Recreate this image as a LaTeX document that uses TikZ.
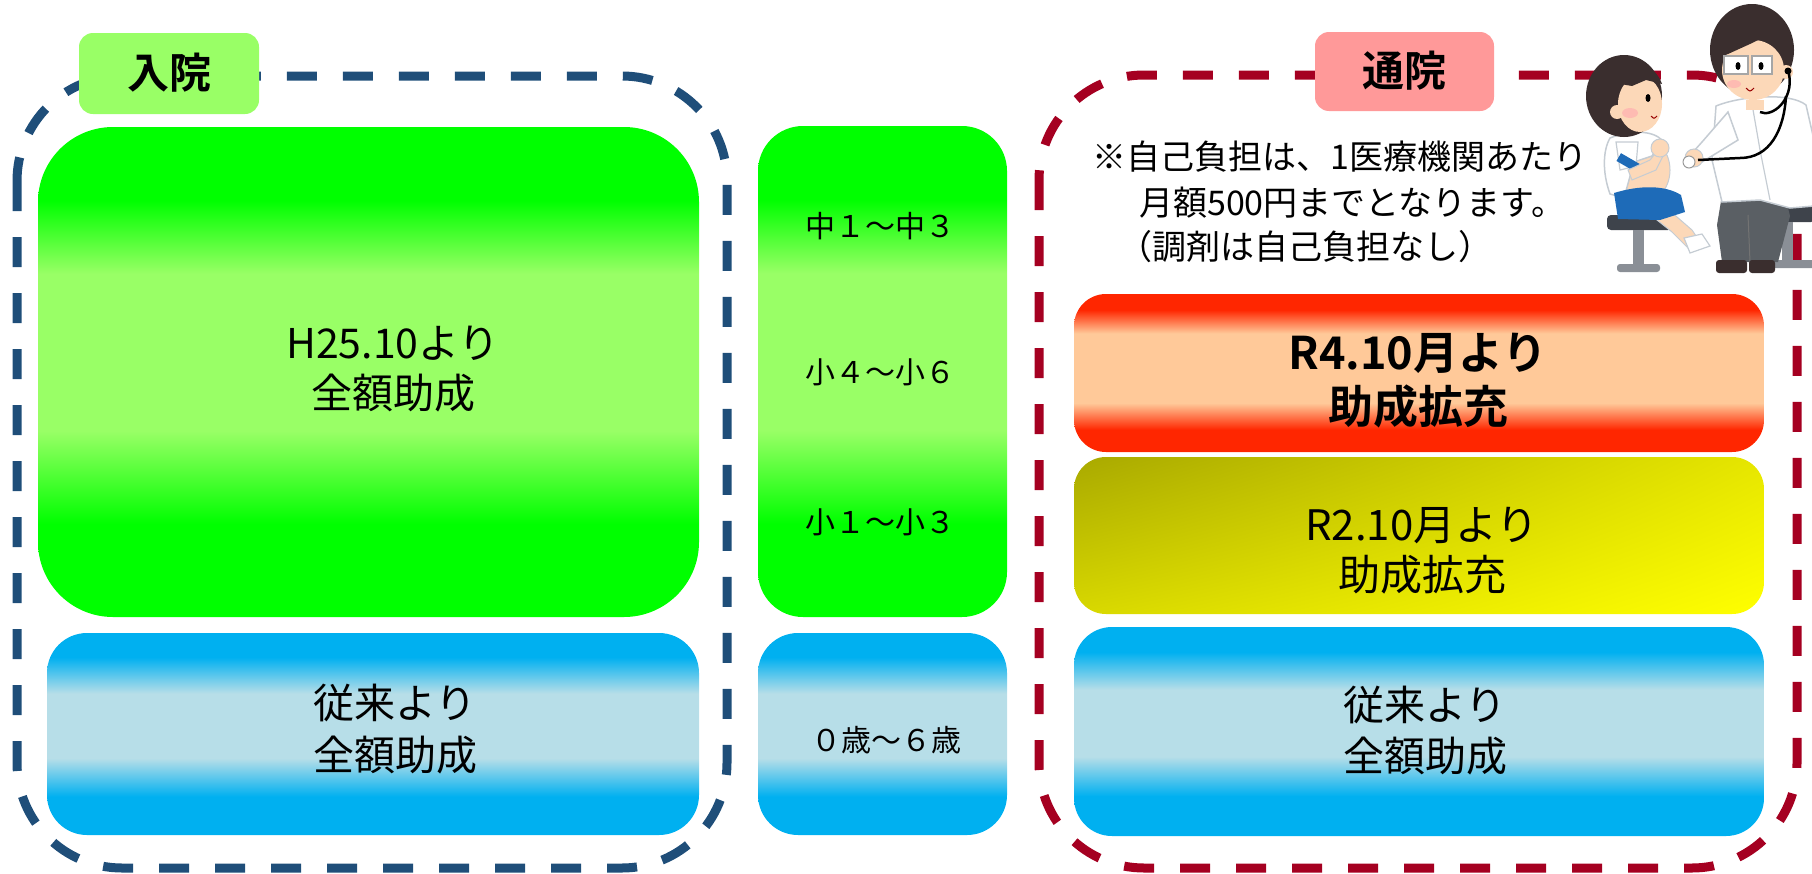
\documentclass[tikz,border=0pt]{standalone}
\usepackage{fontspec}
\setmainfont{Noto Sans CJK JP}[BoldFont={Noto Sans CJK JP Bold}]
\usetikzlibrary{calc,shadings}

\definecolor{frameblue}{HTML}{1F4E79}
\definecolor{framered}{HTML}{A50021}
\definecolor{grnA}{HTML}{00FF00}
\definecolor{grnB}{HTML}{99FF66}
\definecolor{bluA}{HTML}{00B0F0}
\definecolor{bluB}{HTML}{B7DEE8}
\definecolor{redA}{HTML}{FF2600}
\definecolor{redB}{HTML}{FFC999}
\definecolor{yelUL}{HTML}{A9A900}
\definecolor{yelUR}{HTML}{E6E600}
\definecolor{yelLL}{HTML}{D8D800}
\definecolor{yelLR}{HTML}{FFFF00}
\definecolor{tagGreen}{HTML}{99FF66}
\definecolor{tagPink}{HTML}{FF9999}
% illustration colours
\definecolor{skin}{HTML}{FCD8B8}
\definecolor{hair}{HTML}{3A2E2E}
\definecolor{coatline}{HTML}{C5CCD3}
\definecolor{shorts}{HTML}{1E6BB8}
\definecolor{pants}{HTML}{5A5F64}
\definecolor{seat}{HTML}{3E434B}
\definecolor{stoolleg}{HTML}{8A8F96}
\definecolor{blush}{HTML}{FFB0B0}

% banded vertical fills: the path spans 25bp (bottom) .. 75bp (top)
\pgfdeclareverticalshading{greenband}{100bp}{color(0bp)=(grnA); color(34.5bp)=(grnA); color(44bp)=(grnB); color(60bp)=(grnB); color(67.5bp)=(grnA); color(100bp)=(grnA)}
\pgfdeclareverticalshading{blueband}{100bp}{color(0bp)=(bluA); color(34.5bp)=(bluA); color(44bp)=(bluB); color(60bp)=(bluB); color(69bp)=(bluA); color(100bp)=(bluA)}
\pgfdeclareverticalshading{redband}{100bp}{color(0bp)=(redA); color(32bp)=(redA); color(40.5bp)=(redB); color(62.5bp)=(redB); color(70bp)=(redA); color(100bp)=(redA)}

\tikzset{
  panel/.style={rectangle, inner sep=0pt, draw=none},
  frame/.style={line width=9pt, dash pattern=on 30pt off 26pt, rounded corners=105pt},
  tag/.style={rectangle, inner sep=0pt, rounded corners=14pt, font=\fontsize{42pt}{50pt}\selectfont\bfseries},
  bigtext/.style={align=center, inner sep=0pt, font=\fontsize{41pt}{50pt}\selectfont},
  agetext/.style={inner sep=0pt, font=\fontsize{30pt}{36pt}\selectfont},
  notetext/.style={inner sep=0pt, anchor=base west, font=\fontsize{34pt}{46pt}\selectfont},
}

\begin{document}
\begin{tikzpicture}[x=1pt,y=-1pt]
\useasboundingbox (0,0) rectangle (1812,873);

% dashed frames
\draw[frame, frameblue] (17,76) rectangle (727,868);
\draw[frame, framered] (1039,75) rectangle (1797,868);

% inpatient column
\node[panel, shading=greenband, rounded corners=75pt, minimum width=661pt, minimum height=490pt] (inBig) at (368.5,372) {};
\node[bigtext] (inBigText) at (393,369) {H25.10より\\全額助成};
\node[panel, shading=blueband, rounded corners=40pt, minimum width=652pt, minimum height=202pt] (inBase) at (373,734) {};
\node[bigtext, font=\fontsize{41pt}{52pt}\selectfont] (inBaseText) at (395,729) {従来より\\全額助成};

% age column
\node[panel, shading=greenband, rounded corners=45pt, minimum width=249pt, minimum height=491pt] (ageSchool) at (882.5,371.5) {};
\node[agetext] (ageJH) at (880,226) {中１～中３};
\node[agetext] (ageU) at (880,372) {小４～小６};
\node[agetext] (ageL) at (880,522) {小１～小３};
\node[panel, shading=blueband, rounded corners=40pt, minimum width=249pt, minimum height=202pt] (agePre) at (882.5,734) {};
\node[agetext] (agePreText) at (886,740) {０歳～６歳};

% outpatient column
\node[panel, shading=redband, rounded corners=32pt, minimum width=690pt, minimum height=158pt] (outR4) at (1419,373) {};
\node[bigtext, font=\fontsize{45pt}{54pt}\selectfont\bfseries] (outR4Text) at (1418,381) {R4.10月より\\助成拡充};
\node[panel, upper left=yelUL, upper right=yelUR, lower left=yelLL, lower right=yelLR, rounded corners=32pt, minimum width=690pt, minimum height=157pt] (outR2) at (1419,535.5) {};
\node[bigtext, font=\fontsize{42pt}{50pt}\selectfont] (outR2Text) at (1422,551) {R2.10月より\\助成拡充};
\node[panel, shading=blueband, rounded corners=38pt, minimum width=690pt, minimum height=209pt] (outBase) at (1419,731.5) {};
\node[bigtext, font=\fontsize{41pt}{51pt}\selectfont] (outBaseText) at (1425,731) {従来より\\全額助成};

% note
\node[notetext] (note1) at (1092,169) {※自己負担は、1医療機関あたり};
\node[notetext] (note2) at (1139,215) {月額500円までとなります。};
\node[notetext] (note3) at (1118,259) {（調剤は自己負担なし）};

% headings
\node[tag, fill=tagGreen, minimum width=180pt, minimum height=81pt] (tagIn) at (169,73.5) {\raisebox{6pt}{入院}};
\node[tag, fill=tagPink, minimum width=179pt, minimum height=79pt] (tagOut) at (1404.5,71.5) {\raisebox{5pt}{通院}};

% ---- doctor examining a child ----
% child's stool
\fill[seat, rounded corners=4pt] (1607,215) rectangle (1672,230);
\fill[stoolleg] (1633,230) rectangle (1644,266);
\fill[stoolleg, rounded corners=3pt] (1617,264) rectangle (1660,272);
% child's leg and sock
\fill[skin, draw=coatline, line width=1pt] (1662,204) -- (1692,230) -- (1700,242) -- (1688,248) -- (1672,232) -- (1652,216) -- cycle;
\fill[white, draw=coatline, line width=1.2pt] (1684,238) -- (1702,234) -- (1710,246) -- (1690,253) -- cycle;
% child's body
\fill[skin, draw=coatline, line width=1pt] (1640,170) ellipse (30 and 34);
\fill[white, draw=coatline, line width=1.5pt] (1610,138) .. controls (1630,130) and (1652,130) .. (1662,140) -- (1652,156) -- (1634,162) -- (1624,198) -- (1610,194) .. controls (1602,172) and (1603,150) .. (1610,138) -- cycle;
\fill[shorts] (1614,193) .. controls (1640,185) and (1665,185) .. (1681,195) -- (1685,212) -- (1660,220) -- (1618,219) -- cycle;
% arm with sleeve band
\fill[white, draw=coatline, line width=1.2pt] (1616,142) -- (1638,142) -- (1636,166) -- (1620,170) -- cycle;
\fill[shorts, rotate around={-30:(1628,163)}] (1617,158) rectangle (1641,167);
\fill[skin, draw=coatline, line width=1pt] (1628,170) -- (1650,160) -- (1658,150) -- (1664,154) -- (1656,170) -- (1632,180) -- cycle;
\fill[skin, draw=coatline, line width=1pt] (1660,148) circle (9);
% child's head
\fill[hair] (1624,96) ellipse (38 and 41);
\fill[skin] (1640,104) ellipse (22 and 28);
\fill[skin] (1617,112) circle (7);
\fill[hair] (1606,100) .. controls (1600,62) and (1650,50) .. (1662,84) -- (1646,80) -- (1632,86) -- (1620,84) -- cycle;
\fill[black] (1648,98) ellipse (2.5 and 4);
\fill[blush, opacity=0.7] (1630,113) ellipse (8 and 5);
\draw[red!60!black, line width=1pt] (1651,116) .. controls (1654,119) .. (1657,116);

% doctor's stool
\fill[seat, rounded corners=4pt] (1765,206) rectangle (1815,222);
\fill[stoolleg] (1782,222) rectangle (1793,262);
\fill[stoolleg, rounded corners=3pt] (1768,260) rectangle (1815,268);
% doctor's legs and shoes
\fill[pants] (1722,195) -- (1786,200) -- (1790,216) -- (1778,262) -- (1722,262) -- (1717,225) -- cycle;
\draw[black!55, line width=1pt] (1748,215) -- (1750,262);
\fill[hair, rounded corners=3pt] (1716,260) rectangle (1747,273);
\fill[hair, rounded corners=3pt] (1749,260) rectangle (1775,273);
% white coat
\fill[white, draw=coatline, line width=1.5pt] (1716,106) .. controls (1740,96) and (1790,92) .. (1806,105) -- (1814,140) -- (1814,206) -- (1790,208) -- (1760,200) -- (1722,202) -- (1712,160) -- cycle;
\draw[coatline, line width=1.2pt] (1752,104) -- (1760,150) -- (1770,200);
\fill[white, draw=coatline, line width=1.5pt] (1728,112) -- (1702,142) -- (1693,152) -- (1702,162) -- (1738,140) -- cycle;
% hand and chest piece
\fill[skin, draw=coatline, line width=1pt] (1694,158) circle (9);
\fill[white, draw=black!40, line width=1pt] (1689,162) circle (6);
% doctor's head
\fill[skin] (1746,100) rectangle (1764,110);
\fill[hair] (1752,50) ellipse (42 and 46);
\fill[skin] (1753,70) ellipse (31 and 30);
\fill[skin] (1786,72) circle (7);
\fill[hair] (1714,58) .. controls (1722,18) and (1782,12) .. (1794,48) -- (1784,46) -- (1766,36) -- (1750,44) -- (1728,54) -- cycle;
\draw[black!35, fill=white, line width=1.5pt] (1724,56) rectangle (1748,74);
\draw[black!35, fill=white, line width=1.5pt] (1752,56) rectangle (1772,74);
\fill[black] (1738,66) ellipse (2.5 and 4);
\fill[black] (1761,66) ellipse (2.5 and 4);
\fill[blush, opacity=0.7] (1734,84) ellipse (7 and 4);
\draw[red!60!black, line width=1pt] (1746,88) .. controls (1750,92) .. (1754,88);
% stethoscope
\fill[black] (1788,71) circle (3.5);
\draw[black, line width=2.5pt] (1789,74) .. controls (1794,100) and (1772,118) .. (1760,112);
\draw[black, line width=2.5pt] (1786,96) .. controls (1784,130) and (1770,158) .. (1740,158) -- (1698,160);
\end{tikzpicture}
\end{document}
